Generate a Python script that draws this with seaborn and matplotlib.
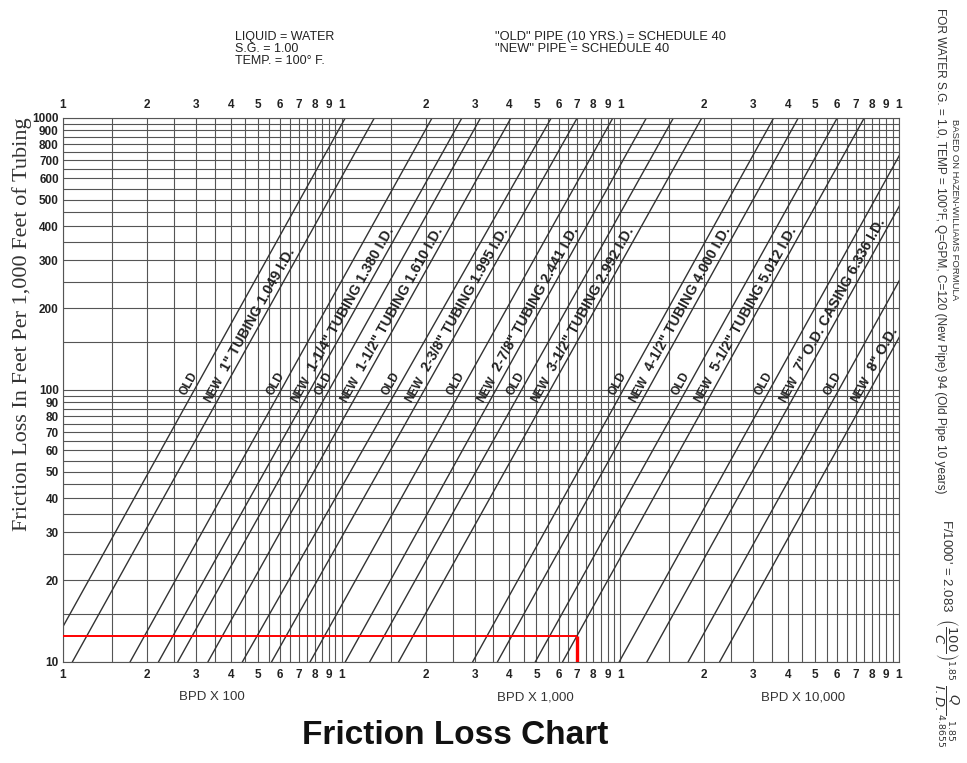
import numpy as np
import pandas as pd
import matplotlib
matplotlib.use("Agg")
import matplotlib.pyplot as plt
from matplotlib.ticker import NullFormatter
import seaborn as sns

# ---- data -------------------------------------------------------------
pipe_names = ['1"', '1-1/4"', '1-1/2"', '2-3/8"', '2-7/8"', '3-1/2"',
              '4-1/2"', '5-1/2"', '7"', '8"']
size_labels = ['1" TUBING 1.049 I.D.', '1-1/4" TUBING 1.380 I.D.',
               '1-1/2" TUBING 1.610 I.D.', '2-3/8" TUBING 1.995 I.D.',
               '2-7/8" TUBING 2.441 I.D.', '3-1/2" TUBING 2.992 I.D.',
               '4-1/2" TUBING 4.000 I.D.', '5-1/2" TUBING 5.012 I.D.',
               '7" O.D. CASING 6.336 I.D.', '8" O.D.']

# flow rate (BPD) at a friction loss of 10 and of 1000 ft per 1,000 ft
old_bpd_at_10 = [85, 174, 258, 440, 770, 1260, 2950, 4950, 9900, 17500]
old_bpd_at_1000 = [1030, 2110, 3150, 5650, 9400, 15500, 35500, 60000, 119000, 211000]
new_bpd_at_10 = [108, 220, 331, 560, 1030, 1600, 3620, 6200, 12450, 22700]
new_bpd_at_1000 = [1310, 2700, 4050, 7000, 12400, 19600, 43500, 75000, 150000, 273000]

# worked example: 7,000 BPD -> 12.5 ft / 1,000 ft
example_bpd = 7000
example_loss = 12.5

x_decades = [100, 1000, 10000]
y_decades = [10, 100]
digits = [1, 2, 3, 4, 5, 6, 7, 8, 9]

# ---- figure -----------------------------------------------------------
sns.set_theme(style="white")
plt.rcParams['font.family'] = ['Liberation Sans', 'DejaVu Sans']

W, H = 967, 763
fig = plt.figure(figsize=(W / 100, H / 100), dpi=100)
L, R, T, B = 63, 899, 118, 662
ax = fig.add_axes([L / W, 1 - B / H, (R - L) / W, (B - T) / H])
ax.set_xscale('log')
ax.set_yscale('log')
ax.set_xlim(100, 100000)
ax.set_ylim(10, 1000)

grid_col = '#555555'
line_col = '#333333'
text_col = '#222222'

# long table: one row per end point of each pipe line
rows = []
for i, name in enumerate(pipe_names):
    for cond, q10, q1000 in (("OLD", old_bpd_at_10[i], old_bpd_at_1000[i]),
                             ("NEW", new_bpd_at_10[i], new_bpd_at_1000[i])):
        rows.append({"line": f"{name} {cond}", "bpd": q10, "loss": 10})
        rows.append({"line": f"{name} {cond}", "bpd": q1000, "loss": 1000})
df = pd.DataFrame(rows)

sns.lineplot(data=df, x="bpd", y="loss", units="line", estimator=None,
             color=line_col, linewidth=1.0, ax=ax, legend=False, sort=False)
ax.set_xlim(100, 100000)
ax.set_ylim(10, 1000)
ax.set_xlabel("")
ax.set_ylabel("")

# log-paper grid: integer and half-integer lines in each decade
x_major = [d * k for d in x_decades for k in digits] + [100000]
x_labels = [str(k) for d in x_decades for k in digits] + ["1"]
x_minor = [d * (k + 0.5) for d in x_decades for k in digits]
y_major = [d * k for d in y_decades for k in digits] + [1000]
y_labels = [str(v) for v in y_major]
y_minor = [d * (k + 0.5) for d in y_decades for k in digits]

ax.set_xticks(x_major, x_labels)
ax.set_xticks(x_minor, minor=True)
ax.set_yticks(y_major, y_labels)
ax.set_yticks(y_minor, minor=True)
ax.xaxis.set_minor_formatter(NullFormatter())
ax.yaxis.set_minor_formatter(NullFormatter())
ax.grid(which='both', color=grid_col, linewidth=0.8)
ax.set_axisbelow(True)
ax.tick_params(axis='x', which='both', length=0, labeltop=True,
               labelbottom=True, pad=5)
ax.tick_params(axis='y', which='both', length=0, pad=3)
for lab in ax.get_xticklabels() + ax.get_yticklabels():
    lab.set_fontweight('bold')
    lab.set_fontsize(8.5)
    lab.set_color(text_col)
for s in ax.spines.values():
    s.set_color(grid_col)
    s.set_linewidth(0.8)

# worked example in red
ax.plot([100, example_bpd], [example_loss, example_loss], color='#ff0000',
        lw=1.4, solid_capstyle='butt', zorder=5)
ax.plot([example_bpd, example_bpd], [10, example_loss], color='#ff0000',
        lw=2.4, solid_capstyle='butt', zorder=5)


# labels written along the pipe lines
def on_line(q10, q1000, f):
    t = (np.log10(f) - 1) / 2
    return 10 ** (np.log10(q10) + t * (np.log10(q1000) - np.log10(q10)))


def line_text(text, q10, q1000, f, ha='center', size=8.5):
    p1 = ax.transData.transform((q10, 10))
    p2 = ax.transData.transform((q1000, 1000))
    ang = np.degrees(np.arctan2(p2[1] - p1[1], p2[0] - p1[0]))
    q = on_line(q10, q1000, f)
    a = np.radians(ang)
    off = 1.2
    ax.annotate(text, xy=(q, f), xytext=(-np.sin(a) * off, np.cos(a) * off),
                textcoords='offset points', rotation=ang,
                rotation_mode='anchor', ha=ha, va='bottom',
                fontsize=size, fontweight='bold', color=text_col,
                annotation_clip=False, clip_on=True)


for i in range(len(pipe_names)):
    line_text("OLD", old_bpd_at_10[i], old_bpd_at_1000[i], 102)
    line_text("NEW", new_bpd_at_10[i], new_bpd_at_1000[i], 97)
    line_text(size_labels[i], new_bpd_at_10[i], new_bpd_at_1000[i], 114,
              ha='left', size=10.2)

# ---- surrounding text ---------------------------------------------------
def ftext(x, y, s, **kw):
    fig.text(x / W, 1 - y / H, s, **kw)


ftext(235, 49, "LIQUID = WATER\nS.G. = 1.00\nTEMP. = 100° F.", fontsize=9,
      ha='left', va='center', linespacing=0.95, color=text_col)
ftext(495, 43, "\"OLD\" PIPE (10 YRS.) = SCHEDULE 40\n\"NEW\" PIPE = SCHEDULE 40",
      fontsize=9.3, ha='left', va='center', linespacing=0.95, color=text_col)

ftext(212, 697, "BPD X 100", fontsize=9.5, ha='center', va='center', color='#333333')
ftext(535, 697, "BPD X 1,000", fontsize=9.5, ha='center', va='center', color='#333333')
ftext(803, 697, "BPD X 10,000", fontsize=9.5, ha='center', va='center', color='#333333')

ftext(22, 324, "Friction Loss In Feet Per 1,000 Feet of Tubing", rotation=90,
      ha='center', va='center', fontsize=16, color='#333333',
      family=['Liberation Serif', 'DejaVu Serif'])

ftext(455, 735, "Friction Loss Chart", fontsize=24, fontweight='bold',
      ha='center', va='center', color='#111111')

ftext(955, 210, "BASED ON HAZEN-WILLIAMS FORMULA", rotation=-90,
      ha='center', va='center', fontsize=6.8, color='#333333')
ftext(940, 251, "FOR WATER S.G. = 1.0, TEMP = 100°F, Q=GPM, C=120 (New Pipe) 94 (Old Pipe 10 years)",
      rotation=-90, ha='center', va='center', fontsize=8.6, color='#333333')
ftext(946, 633, r"F/1000' = 2.083  $\left(\dfrac{100}{C}\right)^{1.85}\ \dfrac{Q}{I.D.}\genfrac{}{}{0}{}{1.85}{4.8655}$",
      rotation=-90, ha='center', va='center', fontsize=9.5, color='#333333')

fig.savefig("out.png", dpi=100, facecolor='white')
